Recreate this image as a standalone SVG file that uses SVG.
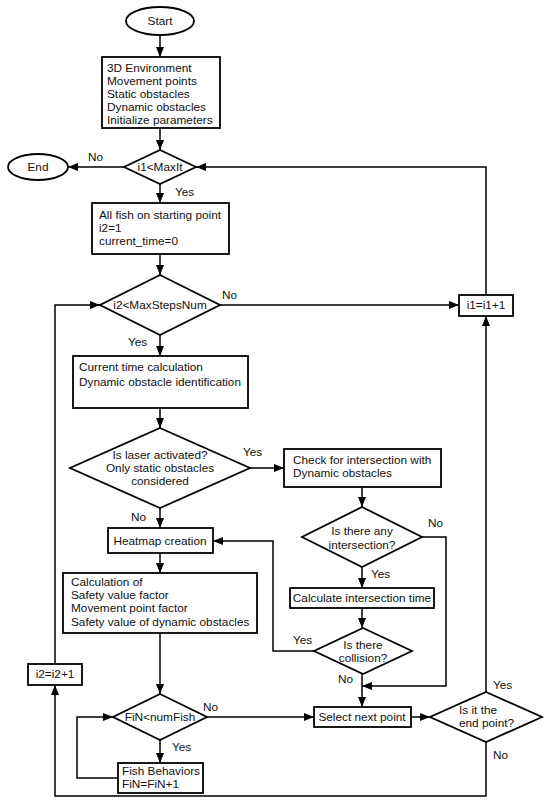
<svg xmlns="http://www.w3.org/2000/svg" width="550" height="803" viewBox="0 0 550 803">
<style>
.s{fill:#fff;stroke:#000;stroke-width:1.8}
.c{fill:none;stroke:#000;stroke-width:1.5}
text{font-family:"Liberation Sans",Arial,sans-serif;font-size:11.8px;fill:#111}
.m{text-anchor:middle}
</style>
<defs>
<marker id="a" markerUnits="userSpaceOnUse" markerWidth="10" markerHeight="8" refX="10" refY="4" orient="auto">
<path d="M0,0 L10,4 L0,8 z" fill="#000"/>
</marker>
</defs>
<g id="connectors" class="c" marker-end="url(#a)">
<path d="M160,35 V57"/>
<path d="M160,128 V150"/>
<path d="M124,167 H68"/>
<path d="M160,184 V203"/>
<path d="M160,254 V275"/>
<path d="M220,305 H459"/>
<path d="M486,295 V167 H196"/>
<path d="M160,335 V356"/>
<path d="M160,408 V428"/>
<path d="M250,468 H284"/>
<path d="M160,508 V528"/>
<path d="M160,553 V573"/>
<path d="M160,633 V694"/>
<path d="M160,740 V763"/>
<path d="M118,778 H77 V717 H113"/>
<path d="M207,717 H314"/>
<path d="M362,487 V507"/>
<path d="M362,567 V588"/>
<path d="M362,608 V628"/>
<path d="M314,651 H273 V541 H213"/>
<path d="M362,674 V707"/>
<path d="M422,537 H446 V686 H362"/>
<path d="M411,717 H430"/>
<path d="M486,692 V316"/>
<path d="M486,742 V796 H55 V685"/>
<path d="M55,664 V305 H100"/>
</g>
<g id="labels">
<text x="88" y="161">No</text>
<text x="175" y="196">Yes</text>
<text x="222" y="299">No</text>
<text x="128" y="346">Yes</text>
<text x="243" y="456">Yes</text>
<text x="131" y="521">No</text>
<text x="428" y="527">No</text>
<text x="371" y="578">Yes</text>
<text x="293" y="644">Yes</text>
<text x="338" y="683">No</text>
<text x="203" y="711">No</text>
<text x="172" y="751">Yes</text>
<text x="493" y="689">Yes</text>
<text x="493" y="759">No</text>
</g>
<g id="start"><ellipse class="s" cx="160" cy="21" rx="34" ry="14"/><text class="m" x="160" y="25">Start</text></g>
<g id="init"><rect class="s" x="102" y="57" width="118" height="71"/>
<text x="107" y="72">3D Environment</text><text x="107" y="85">Movement points</text><text x="107" y="98">Static obstacles</text><text x="107" y="111">Dynamic obstacles</text><text x="107" y="124">Initialize parameters</text></g>
<g id="i1cond"><path class="s" d="M160,150 L196,167 L160,184 L124,167 z"/><text class="m" x="160" y="171">i1&lt;MaxIt</text></g>
<g id="end"><ellipse class="s" cx="38" cy="167" rx="30" ry="13"/><text class="m" x="38" y="171">End</text></g>
<g id="allfish"><rect class="s" x="92" y="203" width="137" height="51"/>
<text x="99" y="219">All fish on starting point</text><text x="99" y="232">i2=1</text><text x="99" y="245">current_time=0</text></g>
<g id="i2cond"><path class="s" d="M160,275 L220,305 L160,335 L100,305 z"/><text class="m" x="160" y="309">i2&lt;MaxStepsNum</text></g>
<g id="i1inc"><rect class="s" x="459" y="295" width="54" height="21"/><text class="m" x="486" y="309">i1=i1+1</text></g>
<g id="curtime"><rect class="s" x="73" y="356" width="175" height="52"/>
<text x="79" y="371">Current time calculation</text><text x="79" y="386">Dynamic obstacle identification</text></g>
<g id="laser"><path class="s" d="M160,428 L250,468 L160,508 L70,468 z"/>
<text class="m" x="160" y="459">Is laser activated?</text><text class="m" x="160" y="472">Only static obstacles</text><text class="m" x="160" y="485">considered</text></g>
<g id="check"><rect class="s" x="284" y="449" width="157" height="38"/>
<text x="293" y="464">Check for intersection with</text><text x="293" y="477">Dynamic obstacles</text></g>
<g id="anyinter"><path class="s" d="M362,507 L422,537 L362,567 L302,537 z"/>
<text class="m" x="362" y="535">Is there any</text><text class="m" x="362" y="549">intersection?</text></g>
<g id="heatmap"><rect class="s" x="108" y="528" width="105" height="25"/><text class="m" x="160" y="545">Heatmap creation</text></g>
<g id="calcint"><rect class="s" x="290" y="588" width="144" height="20"/><text class="m" x="362" y="602">Calculate intersection time</text></g>
<g id="calc"><rect class="s" x="63" y="573" width="194" height="60"/>
<text x="71" y="586">Calculation of</text><text x="71" y="599">Safety value factor</text><text x="71" y="612">Movement point factor</text><text x="71" y="626">Safety value of dynamic obstacles</text></g>
<g id="collision"><path class="s" d="M363,628 L412,651 L363,674 L314,651 z"/>
<text class="m" x="363" y="649">Is there</text><text class="m" x="363" y="662">collision?</text></g>
<g id="i2inc"><rect class="s" x="28" y="664" width="54" height="21"/><text class="m" x="55" y="678">i2=i2+1</text></g>
<g id="fincond"><path class="s" d="M160,694 L207,717 L160,740 L113,717 z"/><text class="m" x="160" y="721">FiN&lt;numFish</text></g>
<g id="select"><rect class="s" x="314" y="707" width="97" height="20"/><text class="m" x="362" y="721">Select next point</text></g>
<g id="endpoint"><path class="s" d="M486,692 L542,717 L486,742 L430,717 z"/>
<text x="459" y="714">Is it the</text><text x="459" y="727">end point?</text></g>
<g id="fishbeh"><rect class="s" x="118" y="763" width="85" height="30"/>
<text x="122" y="775">Fish Behaviors</text><text x="122" y="788">FiN=FiN+1</text></g>
</svg>
